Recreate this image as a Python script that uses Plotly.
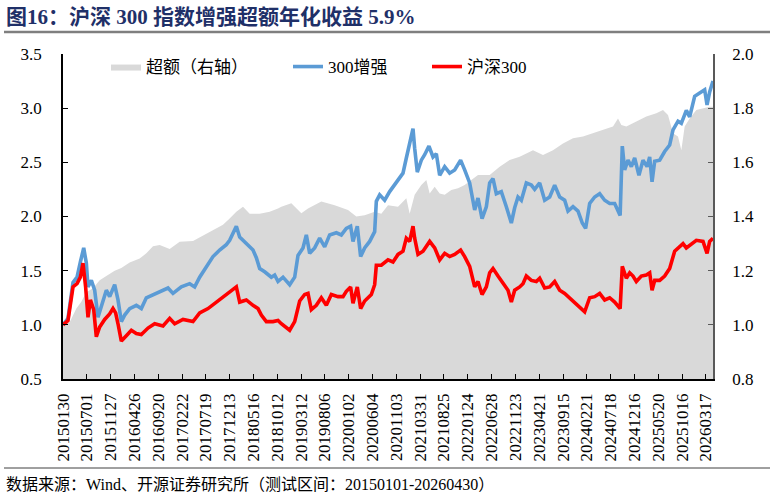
import plotly.graph_objects as go

# ---- data (x = trading-day index, 0 = 20150130) ----
tick_labels = ["20150130", "20150701", "20151127", "20160426", "20160920", "20170222",
               "20170719", "20171213", "20180516", "20181012", "20190312", "20190806",
               "20200102", "20200604", "20201103", "20210331", "20210825", "20220124",
               "20220628", "20221123", "20230421", "20230915", "20240221", "20240718",
               "20241216", "20250520", "20251016", "20260317"]
tick_days = [0, 100, 200, 300, 400, 500, 600, 700, 800, 900, 1000, 1100, 1200, 1300,
             1400, 1500, 1600, 1700, 1800, 1900, 2000, 2100, 2200, 2300, 2400, 2500,
             2600, 2700]
last_day = 2730

enh_day = [0, 21, 42, 59, 73, 87, 98, 105, 119, 133, 147, 161, 182, 196, 217, 231, 245,
           259, 280, 308, 329, 350, 378, 406, 441, 462, 497, 532, 553, 574, 602, 630, 658,
           686, 700, 714, 728, 742, 756, 770, 784, 798, 812, 826, 847, 875, 889, 903, 924,
           952, 973, 987, 1008, 1022, 1036, 1057, 1078, 1099, 1120, 1148, 1169, 1190, 1208,
           1218, 1236, 1250, 1267, 1288, 1309, 1316, 1330, 1351, 1372, 1393, 1414, 1428,
           1442, 1456, 1470, 1477, 1488, 1505, 1519, 1537, 1554, 1568, 1582, 1603, 1624,
           1645, 1670, 1687, 1708, 1729, 1743, 1760, 1778, 1792, 1806, 1820, 1841, 1862,
           1883, 1897, 1911, 1925, 1946, 1967, 1981, 2002, 2023, 2044, 2065, 2086, 2107,
           2121, 2142, 2163, 2181, 2195, 2212, 2233, 2254, 2275, 2296, 2317, 2340, 2349,
           2359, 2373, 2387, 2401, 2419, 2436, 2453, 2464, 2474, 2485, 2506, 2527, 2548,
           2562, 2583, 2597, 2618, 2632, 2653, 2674, 2695, 2705, 2716, 2730]
enh_val = [1.00, 1.06, 1.39, 1.44, 1.58, 1.71, 1.57, 1.35, 1.41, 1.32, 1.07, 1.17, 1.32,
           1.26, 1.37, 1.23, 1.03, 1.09, 1.15, 1.18, 1.15, 1.25, 1.28, 1.31, 1.34, 1.29,
           1.35, 1.38, 1.35, 1.44, 1.54, 1.63, 1.69, 1.74, 1.78, 1.84, 1.91, 1.81, 1.78,
           1.74, 1.71, 1.69, 1.62, 1.52, 1.49, 1.44, 1.46, 1.40, 1.44, 1.37, 1.44, 1.64,
           1.71, 1.83, 1.66, 1.71, 1.80, 1.72, 1.83, 1.85, 1.83, 1.89, 1.91, 1.77, 1.91,
           1.63, 1.71, 1.77, 1.86, 2.14, 2.20, 2.15, 2.23, 2.29, 2.35, 2.40, 2.54, 2.66,
           2.81, 2.63, 2.41, 2.52, 2.57, 2.65, 2.55, 2.58, 2.38, 2.46, 2.40, 2.43, 2.52,
           2.43, 2.31, 2.06, 2.17, 1.98, 2.09, 2.31, 2.35, 2.21, 2.23, 2.09, 1.94, 2.08,
           2.18, 2.15, 2.31, 2.29, 2.25, 2.31, 2.15, 2.18, 2.29, 2.18, 2.15, 2.05, 2.09,
           2.05, 1.94, 1.89, 2.12, 2.18, 2.21, 2.15, 2.12, 2.12, 2.01, 2.65, 2.43, 2.52,
           2.46, 2.54, 2.38, 2.52, 2.46, 2.55, 2.32, 2.51, 2.52, 2.60, 2.66, 2.80, 2.88,
           2.86, 2.98, 2.92, 3.11, 3.14, 3.17, 3.03, 3.15, 3.25]

hs_day = [0, 21, 42, 59, 73, 84, 95, 105, 115, 129, 140, 154, 175, 196, 210, 221, 231,
          245, 266, 287, 308, 329, 357, 385, 420, 448, 469, 504, 546, 574, 609, 644, 672,
          700, 728, 742, 770, 798, 819, 833, 854, 882, 903, 917, 952, 973, 994, 1015, 1029,
          1043, 1064, 1085, 1106, 1127, 1155, 1176, 1190, 1208, 1218, 1236, 1250, 1267,
          1295, 1309, 1316, 1337, 1365, 1386, 1407, 1428, 1442, 1456, 1470, 1477, 1491,
          1512, 1540, 1561, 1582, 1603, 1624, 1645, 1670, 1687, 1708, 1729, 1743, 1760,
          1778, 1792, 1806, 1827, 1848, 1869, 1883, 1897, 1918, 1932, 1946, 1967, 1988,
          2002, 2023, 2044, 2065, 2086, 2107, 2128, 2149, 2170, 2191, 2212, 2233, 2254,
          2275, 2296, 2317, 2340, 2349, 2366, 2380, 2394, 2408, 2429, 2450, 2464, 2474,
          2485, 2506, 2527, 2548, 2569, 2590, 2604, 2618, 2639, 2660, 2688, 2705, 2716,
          2730]
hs_val = [1.00, 1.04, 1.35, 1.38, 1.44, 1.57, 1.35, 1.07, 1.23, 1.14, 0.89, 0.98, 1.05,
          1.10, 1.15, 1.11, 1.01, 0.85, 0.90, 0.95, 0.92, 0.91, 0.97, 1.01, 0.99, 1.06,
          1.01, 1.05, 1.03, 1.11, 1.15, 1.21, 1.25, 1.30, 1.35, 1.21, 1.23, 1.18, 1.15,
          1.09, 1.03, 1.03, 1.04, 1.01, 0.95, 1.03, 1.22, 1.28, 1.29, 1.14, 1.18, 1.25,
          1.18, 1.28, 1.26, 1.26, 1.31, 1.35, 1.20, 1.35, 1.15, 1.22, 1.28, 1.37, 1.55,
          1.55, 1.60, 1.58, 1.65, 1.68, 1.80, 1.77, 1.91, 1.80, 1.65, 1.68, 1.77, 1.71,
          1.60, 1.66, 1.63, 1.65, 1.69, 1.63, 1.54, 1.35, 1.40, 1.28, 1.35, 1.48, 1.52,
          1.45, 1.38, 1.32, 1.21, 1.32, 1.35, 1.38, 1.45, 1.41, 1.40, 1.43, 1.34, 1.35,
          1.40, 1.32, 1.29, 1.25, 1.20, 1.17, 1.12, 1.25, 1.26, 1.29, 1.23, 1.25, 1.21,
          1.15, 1.54, 1.43, 1.48, 1.45, 1.40, 1.45, 1.46, 1.48, 1.32, 1.41, 1.41, 1.45,
          1.52, 1.68, 1.72, 1.75, 1.71, 1.75, 1.78, 1.77, 1.66, 1.77, 1.80]

exc_day = [0, 28, 56, 77, 98, 126, 140, 154, 182, 217, 245, 280, 322, 350, 378, 406, 448,
           490, 546, 588, 630, 672, 700, 728, 756, 784, 826, 868, 903, 917, 959, 1001, 1029,
           1085, 1141, 1197, 1232, 1267, 1309, 1337, 1365, 1407, 1442, 1456, 1477, 1505,
           1526, 1540, 1561, 1582, 1603, 1631, 1659, 1687, 1715, 1743, 1771, 1792, 1834,
           1876, 1918, 1974, 2016, 2058, 2100, 2142, 2184, 2226, 2268, 2310, 2331, 2345,
           2366, 2408, 2450, 2492, 2520, 2541, 2562, 2583, 2597, 2611, 2632, 2660, 2688,
           2716, 2730]
exc_val = [1.00, 1.01, 1.06, 1.085, 1.12, 1.135, 1.15, 1.165, 1.18, 1.20, 1.21, 1.23,
           1.245, 1.264, 1.29, 1.295, 1.28, 1.307, 1.31, 1.33, 1.35, 1.37, 1.393, 1.418,
           1.436, 1.41, 1.41, 1.418, 1.43, 1.436, 1.449, 1.412, 1.43, 1.455, 1.442, 1.424,
           1.40, 1.405, 1.418, 1.41, 1.442, 1.436, 1.467, 1.41, 1.48, 1.516, 1.535, 1.485,
           1.51, 1.485, 1.48, 1.498, 1.504, 1.516, 1.535, 1.553, 1.553, 1.553, 1.584,
           1.609, 1.621, 1.645, 1.627, 1.645, 1.670, 1.689, 1.695, 1.707, 1.719, 1.732,
           1.762, 1.738, 1.732, 1.75, 1.769, 1.781, 1.793, 1.775, 1.707, 1.695, 1.645,
           1.732, 1.762, 1.793, 1.80, 1.805, 1.805]

names = ["超额（右轴）", "300增强", "沪深300"]
title_text = "图16：沪深 300 指数增强超额年化收益 5.9%"
source_text = "数据来源：Wind、开源证券研究所（测试区间：20150101-20260430）"

SERIF = "Liberation Serif, Times New Roman, Noto Sans CJK SC, serif"
W, H = 774, 498
ML, MR, MT, MB = 63, 61, 54, 119
PW, PH = W - ML - MR, H - MT - MB


def px_x(px):
    return (px - ML) / PW


def px_y(py):
    return (H - MB - py) / PH


fig = go.Figure()
fig.add_trace(go.Scatter(x=exc_day, y=exc_val, name=names[0], mode="lines",
                         line=dict(width=0, color="#D9D9D9"), fill="tozeroy",
                         fillcolor="#D9D9D9", yaxis="y", legend="legend"))
fig.add_trace(go.Scatter(x=enh_day, y=enh_val, name=names[1], mode="lines",
                         line=dict(width=3.6, color="#5B9BD5"), yaxis="y2",
                         legend="legend2"))
fig.add_trace(go.Scatter(x=hs_day, y=hs_val, name=names[2], mode="lines",
                         line=dict(width=3.6, color="#FF0000"), yaxis="y2",
                         legend="legend3"))

leg_common = dict(orientation="h", yanchor="middle", xanchor="left",
                  bgcolor="rgba(0,0,0,0)", font=dict(family=SERIF, size=17, color="#000"))

fig.update_layout(
    width=W, height=H,
    margin=dict(l=ML, r=MR, t=MT, b=MB, pad=0),
    paper_bgcolor="white", plot_bgcolor="white",
    showlegend=True,
    legend=dict(x=px_x(106), y=px_y(67), **leg_common),
    legend2=dict(x=px_x(288), y=px_y(67), **leg_common),
    legend3=dict(x=px_x(427), y=px_y(67), **leg_common),
    xaxis=dict(range=[0, last_day], tickmode="array", tickvals=tick_days,
               ticktext=tick_labels, tickangle=-90, ticks="inside", ticklen=5,
               tickcolor="#000", showline=True, linecolor="#000", linewidth=1.5,
               showgrid=False, zeroline=False, ticklabelstandoff=6,
               tickfont=dict(family=SERIF, size=17, color="#000")),
    yaxis=dict(range=[0.8, 2.0], side="right", tickmode="array",
               tickvals=[0.8, 1.0, 1.2, 1.4, 1.6, 1.8, 2.0], tickformat=".1f",
               ticks="inside", ticklen=5, tickcolor="#595959", showline=True,
               linecolor="#595959", linewidth=1.5, showgrid=False, zeroline=False,
               ticklabelstandoff=14, tickfont=dict(family=SERIF, size=17, color="#000")),
    yaxis2=dict(range=[0.5, 3.5], side="left", overlaying="y", tickmode="array",
                tickvals=[0.5, 1.0, 1.5, 2.0, 2.5, 3.0, 3.5], tickformat=".1f",
                ticks="inside", ticklen=5, tickcolor="#000", showline=True,
                linecolor="#000", linewidth=1.5, showgrid=False, zeroline=False,
                ticklabelstandoff=16, tickfont=dict(family=SERIF, size=17, color="#000")),
)

fig.add_annotation(text="<b>" + title_text + "</b>", xref="paper", yref="paper",
                   x=px_x(4), y=px_y(17), xanchor="left", yanchor="middle",
                   showarrow=False, font=dict(family=SERIF, size=21, color="#1F3068"))
fig.add_annotation(text=source_text, xref="paper", yref="paper",
                   x=px_x(4), y=px_y(484), xanchor="left", yanchor="middle",
                   showarrow=False, font=dict(family=SERIF, size=16, color="#000"))
fig.add_shape(type="line", xref="paper", yref="paper", x0=px_x(4), x1=px_x(770),
              y0=px_y(32), y1=px_y(32), line=dict(color="#7F7F7F", width=2.5))
fig.add_shape(type="line", xref="paper", yref="paper", x0=px_x(4), x1=px_x(770),
              y0=px_y(468), y1=px_y(468), line=dict(color="#404040", width=1))

fig.write_html("out.html")
